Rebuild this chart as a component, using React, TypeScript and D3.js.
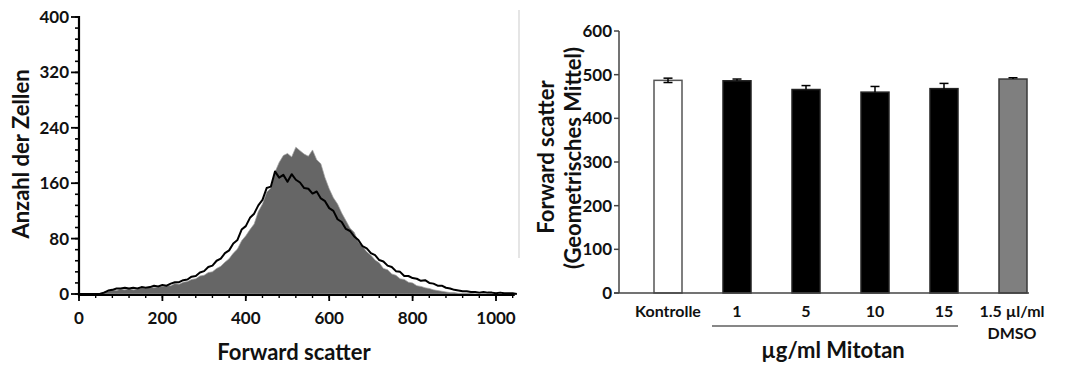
import React from "react";
import * as d3 from "d3";

// ---------- Left panel: histogram data (channel = index*10) ----------
const channels: number[] = Array.from({ length: 106 }, (_, i) => i * 10);

const grayCounts: number[] = [
  0, 0, 0, 0, 0, 1, 3, 4, 6, 5,
  7, 6, 8, 6, 7, 9, 8, 10, 9, 11,
  11, 12, 12, 15, 14, 17, 18, 21, 22, 26,
  27, 31, 32, 37, 40, 46, 51, 59, 65, 77,
  84, 93, 101, 119, 130, 147, 153, 176, 190, 200,
  203, 198, 212, 207, 202, 199, 208, 194, 188, 168,
  152, 139, 130, 117, 106, 95, 89, 75, 69, 61,
  56, 49, 45, 37, 35, 29, 27, 22, 21, 17,
  16, 12, 11, 9, 8, 6, 5, 4, 3, 2,
  2, 1, 1, 1, 1, 0, 0, 0, 0, 0,
  0, 0, 0, 0, 0, 0,
];

const blackCounts: number[] = [
  0, 0, 0, 0, 0, 0, 2, 5, 6, 8,
  8, 9, 8, 9, 8, 10, 9, 10, 12, 11,
  13, 12, 15, 17, 17, 20, 21, 25, 26, 31,
  33, 39, 41, 48, 51, 59, 63, 73, 78, 93,
  98, 110, 116, 128, 136, 153, 155, 177, 168, 172,
  162, 173, 165, 161, 153, 152, 145, 148, 138, 134,
  124, 120, 108, 104, 94, 91, 83, 78, 69, 66,
  59, 56, 49, 47, 41, 39, 33, 32, 26, 26,
  23, 22, 19, 20, 16, 15, 12, 12, 9, 8,
  6, 5, 4, 4, 3, 3, 2, 3, 2, 2,
  1, 2, 1, 1, 1, 0,
];

const histYTicks: number[] = [0, 80, 160, 240, 320, 400];
const histXTicks: number[] = [0, 200, 400, 600, 800, 1000];

// ---------- Right panel: bar chart data ----------
const barCategories: string[] = ["Kontrolle", "1", "5", "10", "15", "DMSO"];
const barValues: number[] = [487, 486, 466, 460, 468, 490];
const barErrors: number[] = [5, 4, 9, 13, 12, 3];
const barFills: string[] = ["#ffffff", "#000000", "#000000", "#000000", "#000000", "#7f7f7f"];
const barYTicks: number[] = [0, 100, 200, 300, 400, 500, 600];

const FONT = "Lato, 'Open Sans', sans-serif";

export default function App() {
  // Left scales
  const hx = d3.scaleLinear().domain([0, 1000]).range([79, 496]);
  const hy = d3.scaleLinear().domain([0, 400]).range([294, 17]);

  const histPts = channels.map((b, i) => ({ x: b, g: grayCounts[i], k: blackCounts[i] }));
  const area = d3
    .area<{ x: number; g: number; k: number }>()
    .x((d) => hx(d.x))
    .y0(hy(0))
    .y1((d) => hy(d.g))
    .curve(d3.curveLinear);
  const line = d3
    .line<{ x: number; g: number; k: number }>()
    .x((d) => hx(d.x))
    .y((d) => hy(d.k))
    .curve(d3.curveLinear);

  const yMinor = d3.range(0, 401, 16);
  const xMinor = d3.range(0, 1041, 40);

  // Right scales
  const bx = d3.scalePoint<string>().domain(barCategories).range([668, 1013]);
  const by = d3.scaleLinear().domain([0, 600]).range([293, 31]);
  const bw = 28;

  return (
    <svg width={1091} height={365} style={{ display: "block", margin: "-8px 0 0 -8px", overflow: "visible" }}>
      <g>
        {/* faint separator line */}
        <line x1={519} x2={519} y1={10} y2={258} stroke="#dcdcdc" strokeWidth={1.5} />

        {/* histogram */}
        <path d={area(histPts) ?? ""} fill="#666666" stroke="#a0a0a0" strokeWidth={0.7} />
        <path d={line(histPts) ?? ""} fill="none" stroke="#000" strokeWidth={2} strokeLinejoin="round" />

        {/* y axis */}
        <line x1={79} x2={79} y1={hy(400) - 1} y2={hy(0) + 2} stroke="#000" strokeWidth={2.2} />
        {yMinor.map((v) => (
          <line key={"ym" + v} x1={75} x2={79} y1={hy(v)} y2={hy(v)} stroke="#000" strokeWidth={1.6} />
        ))}
        {histYTicks.map((v) => (
          <g key={"yt" + v}>
            <line x1={71} x2={79} y1={hy(v)} y2={hy(v)} stroke="#000" strokeWidth={1.8} />
            <text x={69} y={hy(v)} dy="0.35em" textAnchor="end" fontFamily={FONT} fontWeight={700} fontSize={17} fill="#111">
              {v}
            </text>
          </g>
        ))}

        {/* x axis */}
        <line x1={78} x2={hx(1045)} y1={295} y2={295} stroke="#000" strokeWidth={2.2} />
        {xMinor.map((v) => (
          <line key={"xm" + v} x1={hx(v)} x2={hx(v)} y1={295} y2={298} stroke="#000" strokeWidth={1.4} />
        ))}
        {histXTicks.map((v) => (
          <g key={"xt" + v}>
            <line x1={hx(v)} x2={hx(v)} y1={295} y2={301} stroke="#000" strokeWidth={1.8} />
            <text x={hx(v)} y={318} dy="0.35em" textAnchor="middle" fontFamily={FONT} fontWeight={700} fontSize={17} fill="#111">
              {v}
            </text>
          </g>
        ))}

        <text x={294} y={352} dy="0.35em" textAnchor="middle" fontFamily={FONT} fontWeight={700} fontSize={22} fill="#111">
          Forward scatter
        </text>
        <text
          transform={`translate(21,154) rotate(-90)`}
          dy="0.35em"
          textAnchor="middle"
          fontFamily={FONT}
          fontWeight={700}
          fontSize={22}
          fill="#111"
        >
          Anzahl der Zellen
        </text>
      </g>

      {/* ---------- Right panel ---------- */}
      <g>
        {barCategories.map((c, i) => {
          const cx = bx(c) as number;
          const top = by(barValues[i]);
          return (
            <rect
              key={"b" + c}
              x={cx - bw / 2}
              y={top}
              width={bw}
              height={by(0) - top}
              fill={barFills[i]}
              stroke={i === 0 ? "#555" : i === 5 ? "#3a3a3a" : "#222"}
              strokeWidth={1.5}
            />
          );
        })}
        {barCategories.map((c, i) => {
          const cx = bx(c) as number;
          const hi = by(barValues[i] + barErrors[i]);
          const lo = by(barValues[i] - barErrors[i]);
          const showLow = i === 0;
          return (
            <g key={"e" + c} stroke="#000" strokeWidth={1.5}>
              <line x1={cx} x2={cx} y1={hi} y2={showLow ? lo : by(barValues[i])} />
              <line x1={cx - 4.5} x2={cx + 4.5} y1={hi} y2={hi} />
              {showLow && <line x1={cx - 4.5} x2={cx + 4.5} y1={lo} y2={lo} />}
            </g>
          );
        })}

        <line x1={619} x2={619} y1={by(600)} y2={by(0)} stroke="#444" strokeWidth={1.5} />
        <line x1={614} x2={1029} y1={by(0)} y2={by(0)} stroke="#444" strokeWidth={1.5} />
        {barYTicks.map((v) => (
          <g key={"byt" + v}>
            <line x1={614} x2={619} y1={by(v)} y2={by(v)} stroke="#444" strokeWidth={1.5} />
            <text x={612} y={by(v)} dy="0.35em" textAnchor="end" fontFamily={FONT} fontWeight={700} fontSize={17} fill="#111">
              {v}
            </text>
          </g>
        ))}

        {barCategories.map((c, i) =>
          i === 5 ? null : (
            <text
              key={"bl" + c}
              x={bx(c) as number}
              y={311}
              dy="0.35em"
              textAnchor="middle"
              fontFamily={FONT}
              fontWeight={700}
              fontSize={16}
              fill="#111"
            >
              {c}
            </text>
          )
        )}
        <text x={(bx("DMSO") as number) - 1} y={311} dy="0.35em" textAnchor="middle" fontFamily={FONT} fontWeight={700} fontSize={16} fill="#111">
          1.5 µl/ml
        </text>
        <text x={(bx("DMSO") as number) - 1} y={333} dy="0.35em" textAnchor="middle" fontFamily={FONT} fontWeight={700} fontSize={16} fill="#111">
          DMSO
        </text>

        <line x1={712} x2={958} y1={326} y2={326} stroke="#111" strokeWidth={1.2} />
        <text x={833} y={350} dy="0.35em" textAnchor="middle" fontFamily={FONT} fontWeight={700} fontSize={22} fill="#111">
          µg/ml Mitotan
        </text>

        <text transform="translate(546,157) rotate(-90)" dy="0.35em" textAnchor="middle" fontFamily={FONT} fontWeight={700} fontSize={22} fill="#111">
          Forward scatter
        </text>
        <text transform="translate(573,158) rotate(-90)" dy="0.35em" textAnchor="middle" fontFamily={FONT} fontWeight={700} fontSize={22} fill="#111">
          (Geometrisches Mittel)
        </text>
      </g>
    </svg>
  );
}
